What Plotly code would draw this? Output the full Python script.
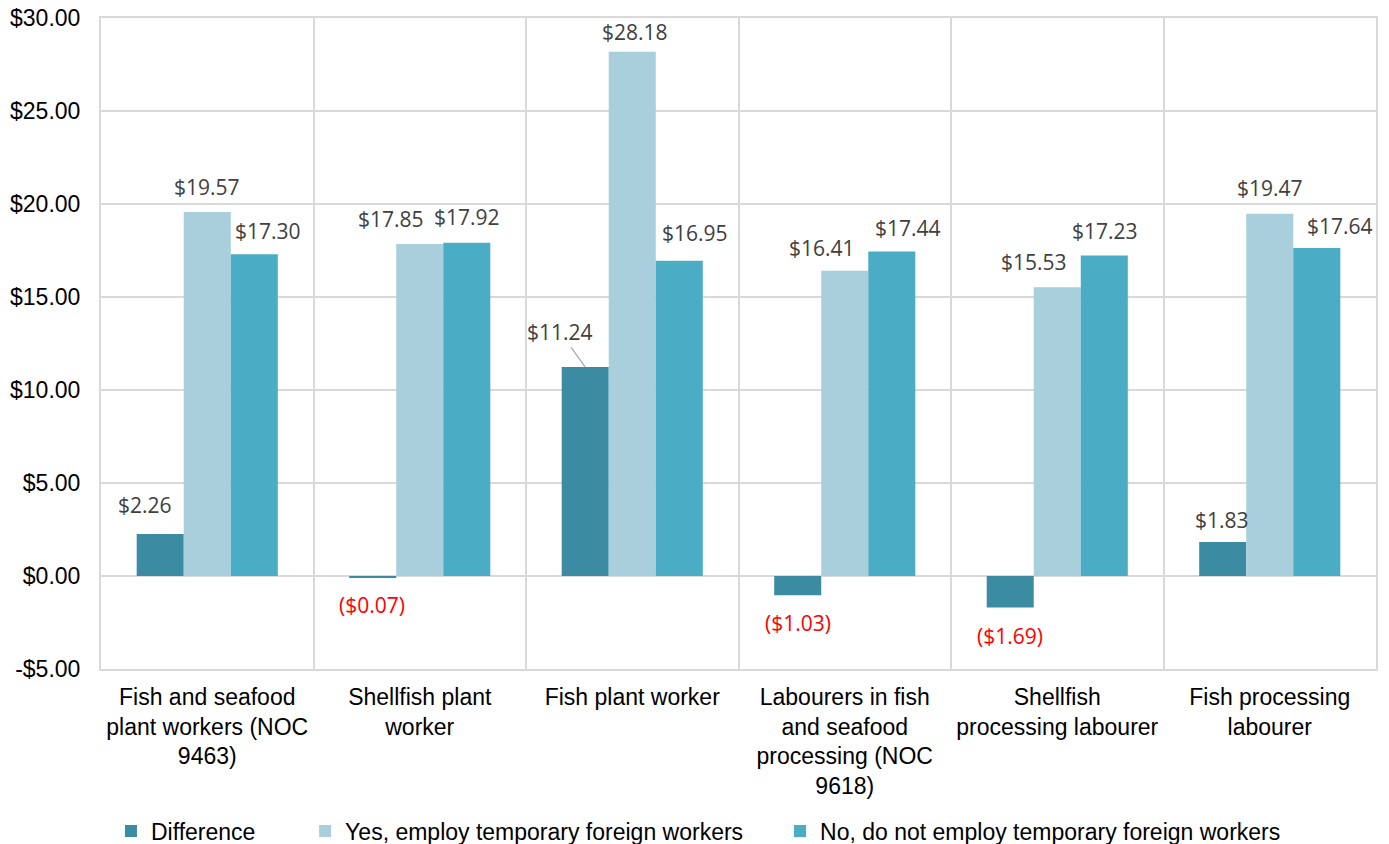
import plotly.graph_objects as go

categories = [
    "Fish and seafood<br>plant workers (NOC<br>9463)",
    "Shellfish plant<br>worker",
    "Fish plant worker",
    "Labourers in fish<br>and seafood<br>processing (NOC<br>9618)",
    "Shellfish<br>processing labourer",
    "Fish processing<br>labourer",
]
series_names = [
    "Difference",
    "Yes, employ temporary foreign workers",
    "No, do not employ temporary foreign workers",
]
difference = [2.26, -0.07, 11.24, -1.03, -1.69, 1.83]
yes_tfw = [19.57, 17.85, 28.18, 16.41, 15.53, 19.47]
no_tfw = [17.30, 17.92, 16.95, 17.44, 17.23, 17.64]
y_tickvals = [-5, 0, 5, 10, 15, 20, 25, 30]

colors = ["#3b8ba2", "#a9cfdc", "#4bacc6"]
series_values = [difference, yes_tfw, no_tfw]
legend_pad = [7, 5, 0]  # trailing spaces in legend entries

# label placement (pixels) relative to bar end: (dx, dy up)
label_offsets = [
    [(-15, 29), (-1, -28), (-25, 35), (0, -28), (0, -29), (-1, 22)],
    [(0, 25), (-29, 25), (3, 20), (-23, 23), (-23, 25), (0, 26)],
    [(14, 23), (0, 26), (16, 28), (16, 24), (1, 25), (23, 22)],
]
bar_px = 47.2


def fmt(v):
    return f"(${abs(v):.2f})" if v < 0 else f"${v:.2f}"


fig = go.Figure()
for name, vals, col, pad in zip(series_names, series_values, colors, legend_pad):
    fig.add_trace(go.Bar(
        x=categories, y=vals, name=name + "\u00a0" * pad,
        marker=dict(color=col, line=dict(width=0)),
    ))

lab_font = "Open Sans"
lab_size = 21
annotations = []
for s, vals in enumerate(series_values):
    for i, v in enumerate(vals):
        dx, dy = label_offsets[s][i]
        base_shift = (s - 1) * bar_px
        col = "#ff0000" if v < 0 else "#404040"
        if s == 0 and i == 2:
            annotations.append(dict(
                x=categories[i], y=v, xref="x", yref="y", text=fmt(v),
                xshift=base_shift, showarrow=True, ax=dx, ay=-dy,
                arrowhead=0, arrowwidth=1.2, arrowcolor="#a6a6a6", standoff=0,
                font=dict(family=lab_font, size=lab_size, color=col),
            ))
        else:
            annotations.append(dict(
                x=categories[i], y=v, xref="x", yref="y", text=fmt(v),
                xshift=base_shift + dx, yshift=dy, showarrow=False,
                xanchor="center", yanchor="middle",
                font=dict(family=lab_font, size=lab_size, color=col),
            ))

grid = "#d9d9d9"
fig.update_layout(
    width=1389, height=844,
    margin=dict(l=101, r=13, t=18, b=175),
    paper_bgcolor="white", plot_bgcolor="white",
    barmode="group", bargap=0.336, bargroupgap=0,
    font=dict(family="Liberation Sans, Arial", size=23, color="#000000"),
    showlegend=True,
    legend=dict(
        orientation="h", x=0.4686, xanchor="center",
        yref="container", y=0.0154, yanchor="middle",
        font=dict(family="Liberation Sans, Arial", size=23, color="#000000"),
        traceorder="normal", itemwidth=30,
    ),
    annotations=annotations,
)
fig.update_xaxes(
    type="category", tickson="boundaries", showgrid=True, gridcolor=grid, gridwidth=2,
    showline=True, linecolor=grid, linewidth=2, mirror=True, ticks="",
    tickfont=dict(family="Liberation Sans, Arial", size=23, color="#000000"),
    ticklabelstandoff=6, automargin=False,
)
fig.update_yaxes(
    range=[-5, 30], tickvals=y_tickvals,
    ticktext=[("-$%.2f" % abs(v)) if v < 0 else ("$%.2f" % v) for v in y_tickvals],
    showgrid=True, gridcolor=grid, gridwidth=2,
    zeroline=True, zerolinecolor=grid, zerolinewidth=2,
    showline=True, linecolor=grid, linewidth=2, mirror=True, ticks="",
    tickfont=dict(family="Liberation Sans, Arial", size=23, color="#000000"),
    ticklabelstandoff=14, automargin=False,
)

fig.write_html(
    "out.html",
    config={"displayModeBar": False},
    post_script="document.body.style.margin='0';document.body.style.overflow='hidden';",
)
